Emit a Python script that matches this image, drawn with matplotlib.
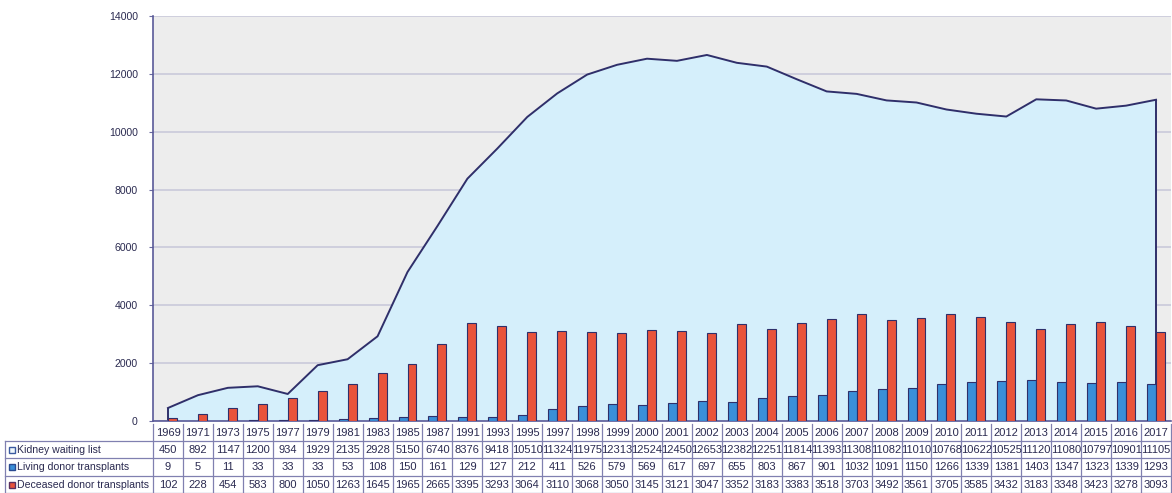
import matplotlib
matplotlib.use("Agg")
import matplotlib.pyplot as plt
import matplotlib.transforms as mtransforms
from matplotlib.patches import Rectangle
import numpy as np

years = ["1969", "1971", "1973", "1975", "1977", "1979", "1981", "1983", "1985", "1987",
         "1991", "1993", "1995", "1997", "1998", "1999", "2000", "2001", "2002", "2003",
         "2004", "2005", "2006", "2007", "2008", "2009", "2010", "2011", "2012", "2013",
         "2014", "2015", "2016", "2017"]
waiting = [450, 892, 1147, 1200, 934, 1929, 2135, 2928, 5150, 6740,
           8376, 9418, 10510, 11324, 11975, 12313, 12524, 12450, 12653, 12382,
           12251, 11814, 11393, 11308, 11082, 11010, 10768, 10622, 10525, 11120,
           11080, 10797, 10901, 11105]
living = [9, 5, 11, 33, 33, 33, 53, 108, 150, 161,
          129, 127, 212, 411, 526, 579, 569, 617, 697, 655,
          803, 867, 901, 1032, 1091, 1150, 1266, 1339, 1381, 1403,
          1347, 1323, 1339, 1293]
deceased = [102, 228, 454, 583, 800, 1050, 1263, 1645, 1965, 2665,
            3395, 3293, 3064, 3110, 3068, 3050, 3145, 3121, 3047, 3352,
            3183, 3383, 3518, 3703, 3492, 3561, 3705, 3585, 3432, 3183,
            3348, 3423, 3278, 3093]
series_names = ["Kidney waiting list", "Living donor transplants", "Deceased donor transplants"]

W, H = 1172, 493
fig = plt.figure(figsize=(W / 100, H / 100), dpi=100)
plt.rcParams['font.family'] = ['Liberation Sans', 'DejaVu Sans']

edge = "#2f2f6a"
area_c = "#d5effb"
blue_c = "#3a8fd8"
red_c = "#e9533b"
grid_c = "#c9c9da"
text_c = "#2a2a50"

ax_l, ax_r, ax_t, ax_b = 153, 1171, 16, 421
ax = fig.add_axes([ax_l / W, 1 - ax_b / H, (ax_r - ax_l) / W, (ax_b - ax_t) / H])
ax.set_facecolor("#ededed")
n = len(years)
x = np.arange(n)
ax.set_xlim(-0.5, n - 0.5)
ax.set_ylim(0, 14000)
ax.set_yticks(range(0, 14001, 2000))
ax.yaxis.grid(True, color=grid_c, lw=1.2, zorder=0)
ax.set_axisbelow(True)
ax.set_xticks([])
ax.tick_params(axis='y', length=3, color="#6a6aa0", labelsize=7.6, labelcolor=text_c, pad=8)
for s in ["top", "right"]:
    ax.spines[s].set_visible(False)
ax.spines["left"].set_color("#5a5a98")
ax.spines["left"].set_linewidth(1.2)
ax.spines["bottom"].set_color("#5a5a98")
ax.spines["bottom"].set_linewidth(1.2)

ax.fill_between(x, waiting, 0, color=area_c, zorder=1, lw=0)
ax.plot(x, waiting, color=edge, lw=1.4, zorder=2)
ax.vlines([x[0], x[-1]], 0, [waiting[0], waiting[-1]], color=edge, lw=1.4, zorder=2)

bw = 0.3
ax.bar(x - bw / 2, living, bw, color=blue_c, edgecolor=edge, lw=0.8, zorder=3)
ax.bar(x + bw / 2, deceased, bw, color=red_c, edgecolor=edge, lw=0.8, zorder=3)

# data table below the axes
ov = fig.add_axes([0, 0, 1, 1], facecolor="none")
ov.set_xlim(0, W)
ov.set_ylim(H, 0)
ov.axis("off")
tr = mtransforms.blended_transform_factory(ax.transData, ov.transData)
line_c = "#8080b0"
row_y = [424, 441, 458, 476, 493]
for yy in row_y[1:]:
    ov.plot([5, ax_r - 1], [yy, yy], color=line_c, lw=0.9)
ov.plot([5, 5], [row_y[1], row_y[-1]], color=line_c, lw=0.9)
for i in range(n + 1):
    ov.plot([i - 0.5, i - 0.5], [row_y[0], row_y[-1]], color=line_c, lw=0.9, transform=tr)
fs = 8.0
for i in range(n):
    ov.text(i, (row_y[0] + row_y[1]) / 2 + 0.5, years[i], ha="center", va="center",
            fontsize=fs, color=text_c, transform=tr)
    for r, vals in enumerate([waiting, living, deceased]):
        ov.text(i, (row_y[r + 1] + row_y[r + 2]) / 2 + 0.5, str(vals[i]), ha="center", va="center",
                fontsize=fs, color=text_c, transform=tr)
marker_cols = [("#eef6fb", "#3a5aa0"), (blue_c, "#2a4a90"), (red_c, "#5a3060")]
for r, name in enumerate(series_names):
    yc = (row_y[r + 1] + row_y[r + 2]) / 2
    fc, ec = marker_cols[r]
    ov.add_patch(Rectangle((9, yc - 3), 6, 6, facecolor=fc, edgecolor=ec, lw=1))
    ov.text(17, yc + 0.5, name, ha="left", va="center", fontsize=7.6, color=text_c)

fig.savefig("out.png", dpi=100)
